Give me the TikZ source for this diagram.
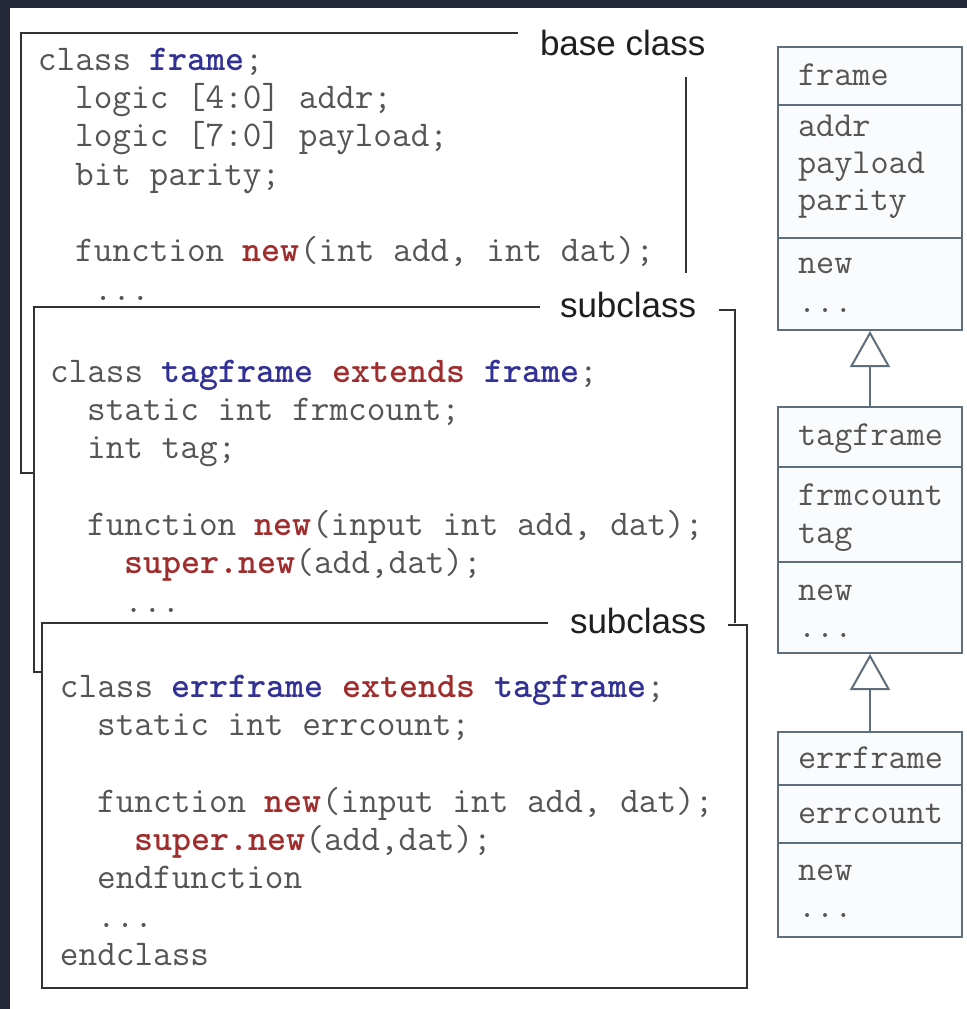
\documentclass[tikz,border=0pt]{standalone}
\usepackage{fontspec}
\usetikzlibrary{arrows.meta}
\newfontfamily\labelfont{Liberation Sans}
\definecolor{bgdark}{RGB}{37,40,58}
\definecolor{codegray}{RGB}{85,85,85}
\definecolor{kwblue}{RGB}{50,50,150}
\definecolor{kwred}{RGB}{160,45,45}
\definecolor{umlline}{RGB}{95,110,125}
\definecolor{umlfill}{RGB}{250,251,253}
\definecolor{boxline}{RGB}{50,50,50}
\newcommand\kwb[1]{\textcolor{kwblue}{\bfseries #1}}
\newcommand\kwr[1]{\textcolor{kwred}{\bfseries #1}}
\begin{document}
\begin{tikzpicture}[x=0.5pt,y=-0.5pt,
  code/.style={anchor=base west, inner sep=0pt, outer sep=0pt,
    font=\ttfamily\fontsize{18.1}{21}\selectfont, text=codegray},
  tag/.style={anchor=base west, inner sep=0pt, outer sep=0pt,
    font=\labelfont\fontsize{17.5}{21}\selectfont, text=black!88},
  frameline/.style={draw=boxline, line width=1.4pt, line join=miter},
  uml/.style={draw=umlline, line width=1pt, fill=umlfill, inner sep=0pt},
  umldiv/.style={draw=umlline, line width=1pt},
  umltext/.style={anchor=base west, inner sep=0pt, outer sep=0pt,
    font=\ttfamily\fontsize{17.6}{20}\selectfont, text=codegray},
  inh/.style={draw=umlline, line width=1pt,
    -{Triangle[fill=white, length=18pt, width=20pt, line width=1pt]}}]

% background and page border
\fill[bgdark] (0,0) rectangle (967,1009);
\fill[white] (10,8) rectangle (967,1009);
\useasboundingbox (0,0) rectangle (967,1009);

% ---------- base class box ----------
\draw[frameline] (518,33) -- (21,33) -- (21,473) -- (34,473);
\draw[frameline] (686,77) -- (686,273);
\node[tag] (lbase) at (540,55) {base class};

\node[code] (a1) at (38,70) {class \kwb{frame};};
\node[code] (a2) at (75.2,108) {logic [4:0] addr;};
\node[code] (a3) at (75.2,146) {logic [7:0] payload;};
\node[code] (a4) at (75.2,185) {bit parity;};
\node[code] (a5) at (75.2,261) {function \kwr{new}(int add, int dat);};
\node[code] (a6) at (93.8,300) {...};

% ---------- first subclass box ----------
\fill[white] (34,307) rectangle (735,672);
\draw[frameline] (540,307) -- (34,307) -- (34,672) -- (42,672);
\draw[frameline] (719,310) -- (735,310) -- (735,623);
\node[tag] (lsub1) at (560,317) {subclass};

\node[code] (b1) at (50,382) {class \kwb{tagframe} \kwr{extends} \kwb{frame};};
\node[code] (b2) at (87.2,420) {static int frmcount;};
\node[code] (b3) at (87.2,458) {int tag;};
\node[code] (b4) at (87.2,535) {function \kwr{new}(input int add, dat);};
\node[code] (b5) at (124.4,573) {\kwr{super.new}(add,dat);};
\node[code] (b6) at (124.4,612) {...};

% ---------- second subclass box ----------
\fill[white] (42,623) rectangle (747,988);
\draw[frameline] (548,623) -- (42,623) -- (42,988) -- (747,988) -- (747,625) -- (728,625);
\node[tag] (lsub2) at (570,633) {subclass};

\node[code] (c1) at (60,697) {class \kwb{errframe} \kwr{extends} \kwb{tagframe};};
\node[code] (c2) at (97.2,735) {static int errcount;};
\node[code] (c3) at (97.2,812) {function \kwr{new}(input int add, dat);};
\node[code] (c4) at (134.4,850) {\kwr{super.new}(add,dat);};
\node[code] (c5) at (97.2,888) {endfunction};
\node[code] (c6) at (97.2,927) {...};
\node[code] (c7) at (60,965) {endclass};

% ---------- UML class diagram ----------
\node[uml, minimum width=92pt, minimum height=141.5pt] (clsA) at (870,188.5) {};
\draw[umldiv] (778,105) -- (962,105);
\draw[umldiv] (778,238) -- (962,238);
\node[umltext] (ua1) at (798,85) {frame};
\node[umltext] (ua2) at (798,136) {addr};
\node[umltext] (ua3) at (798,173) {payload};
\node[umltext] (ua4) at (798,210) {parity};
\node[umltext] (ua5) at (798,273) {new};
\node[umltext] (ua6) at (798,312) {...};

\node[uml, minimum width=92pt, minimum height=123pt] (clsB) at (870,530) {};
\draw[umldiv] (778,467) -- (962,467);
\draw[umldiv] (778,562) -- (962,562);
\node[umltext] (ub1) at (798,445) {tagframe};
\node[umltext] (ub2) at (798,505) {frmcount};
\node[umltext] (ub3) at (798,543) {tag};
\node[umltext] (ub4) at (798,600) {new};
\node[umltext] (ub5) at (798,637) {...};

\node[uml, minimum width=92pt, minimum height=102.5pt] (clsC) at (870,834.5) {};
\draw[umldiv] (778,785) -- (962,785);
\draw[umldiv] (778,843) -- (962,843);
\node[umltext] (uc1) at (798,768) {errframe};
\node[umltext] (uc2) at (798,823) {errcount};
\node[umltext] (uc3) at (798,880) {new};
\node[umltext] (uc4) at (798,917) {...};

\draw[inh] (clsB.north) -- (clsA.south);
\draw[inh] (clsC.north) -- (clsB.south);
\end{tikzpicture}
\end{document}
